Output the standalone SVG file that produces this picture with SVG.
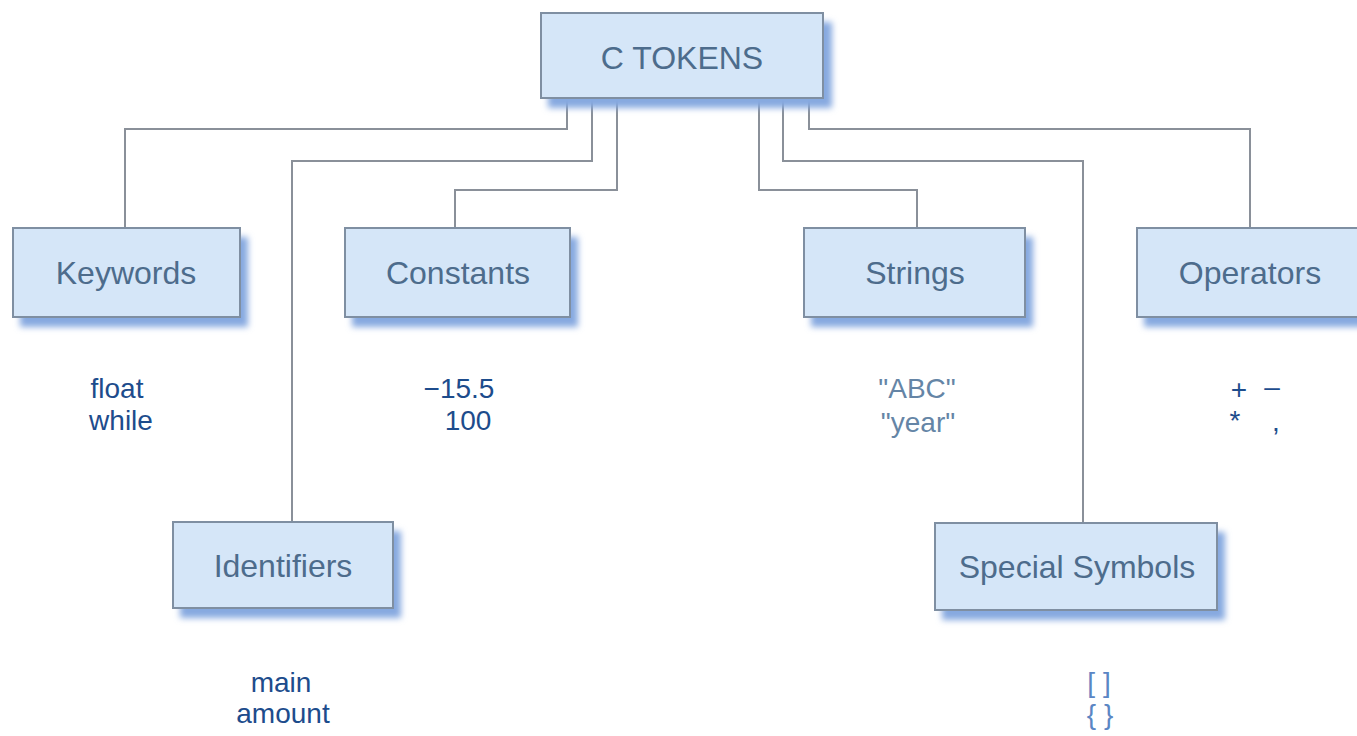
<svg xmlns="http://www.w3.org/2000/svg" width="1357" height="736" viewBox="0 0 1357 736">
<defs>
<filter id="blur" x="-10%" y="-20%" width="130%" height="150%"><feGaussianBlur stdDeviation="3"/></filter>
</defs>
<style>
.shadow{fill:#86a9e0;filter:url(#blur)}
.box{fill:#d5e6f8;stroke:#7f8fa2;stroke-width:2}
.lbl{font-family:"Liberation Sans",Arial,sans-serif;font-size:32px;fill:#4d6c8c;text-anchor:middle}
.ex{font-family:"Liberation Sans",Arial,sans-serif;font-size:28px;fill:#1d4c8c;text-anchor:middle}
.exl{font-family:"Liberation Sans",Arial,sans-serif;font-size:28px;fill:#6585a6;text-anchor:middle}
.exs{font-family:"Liberation Sans",Arial,sans-serif;font-size:28px;fill:#5b86c4;text-anchor:middle}
.conn{fill:none;stroke:#8a9099;stroke-width:2}
</style>
<rect width="1357" height="736" fill="#ffffff"/>
<g id="connectors">
<polyline class="conn" points="567,98 567,129 125,129 125,228"/>
<polyline class="conn" points="592,98 592,161 292,161 292,522"/>
<polyline class="conn" points="617,98 617,190 455,190 455,228"/>
<polyline class="conn" points="759,98 759,190 917,190 917,228"/>
<polyline class="conn" points="783,98 783,161 1083,161 1083,523"/>
<polyline class="conn" points="809,98 809,129 1250,129 1250,228"/>
</g>
<g id="ctokens">
<rect class="shadow" x="548" y="22" width="284" height="86"/>
<rect class="box" x="541" y="13" width="282" height="85"/>
<text class="lbl" x="682" y="69">C TOKENS</text>
</g>
<g id="keywords">
<rect class="shadow" x="20" y="237" width="228" height="90"/>
<rect class="box" x="13" y="228" width="227" height="89"/>
<text class="lbl" x="126" y="284">Keywords</text>
<text class="ex" x="117" y="398">float</text>
<text class="ex" x="121" y="430">while</text>
</g>
<g id="constants">
<rect class="shadow" x="352" y="237" width="226" height="90"/>
<rect class="box" x="345" y="228" width="225" height="89"/>
<text class="lbl" x="458" y="284">Constants</text>
<text class="ex" x="459" y="398">−15.5</text>
<text class="ex" x="468" y="430">100</text>
</g>
<g id="strings">
<rect class="shadow" x="811" y="237" width="222" height="90"/>
<rect class="box" x="804" y="228" width="221" height="89"/>
<text class="lbl" x="915" y="284">Strings</text>
<text class="exl" x="917" y="398">"ABC"</text>
<text class="exl" x="918" y="432">"year"</text>
</g>
<g id="operators">
<rect class="shadow" x="1144" y="237" width="230" height="90"/>
<rect class="box" x="1137" y="228" width="240" height="89"/>
<text class="lbl" x="1250" y="284">Operators</text>
<text class="ex" x="1239" y="399" font-size="30">+</text>
<text class="ex" x="1272" y="396" font-size="26">–</text>
<text class="ex" x="1235" y="430" font-size="20">*</text>
<text class="ex" x="1276" y="431" font-size="18">,</text>
</g>
<g id="identifiers">
<rect class="shadow" x="180" y="531" width="221" height="87"/>
<rect class="box" x="173" y="522" width="220" height="86"/>
<text class="lbl" x="283" y="577">Identifiers</text>
<text class="ex" x="281" y="692">main</text>
<text class="ex" x="283" y="723">amount</text>
</g>
<g id="special">
<rect class="shadow" x="942" y="532" width="283" height="88"/>
<rect class="box" x="935" y="523" width="282" height="87"/>
<text class="lbl" x="1077" y="578">Special Symbols</text>
<text class="exs" x="1099" y="692">[ ]</text>
<text class="exs" x="1100" y="724">{ }</text>
</g>
</svg>
